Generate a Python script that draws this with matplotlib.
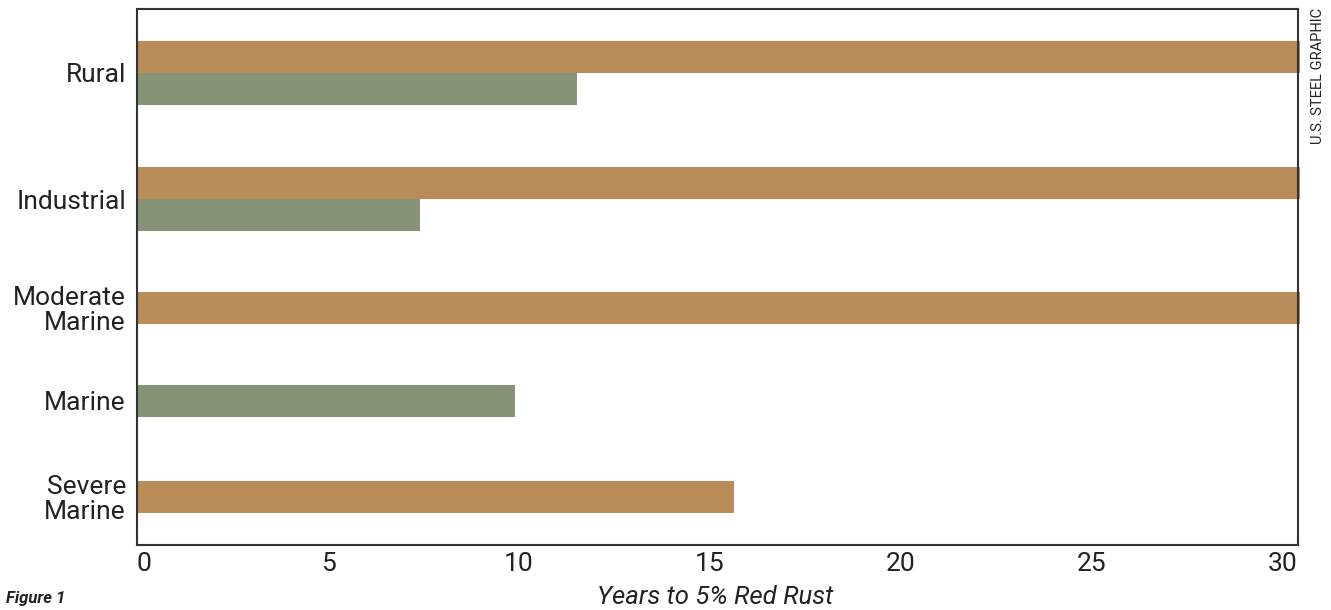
import matplotlib.pyplot as plt

plt.rcParams['font.family'] = ['Roboto', 'DejaVu Sans']

# environments, top to bottom
categories = ['Rural', 'Industrial', 'Moderate\nMarine', 'Marine', 'Severe\nMarine']
# years to 5% red rust, None = no bar
orange_years = [30.45, 30.45, 30.45, None, 15.63]
green_years = [11.52, 7.41, None, 9.9, None]

orange = '#BA8C5A'
green = '#869377'

# row centres and bar height (layout, in bar-height units)
row_pos = [2.0, 5.94, 9.34, 12.25, 15.25]
bar_h = 1.0

fig = plt.figure(figsize=(13.31, 6.10), dpi=100)
ax = fig.add_axes([137 / 1331, 1 - 545 / 610, (1298 - 137) / 1331, (545 - 9) / 610])

for i in range(len(categories)):
    o = orange_years[i]
    g = green_years[i]
    if o is not None and g is not None:
        ax.barh(row_pos[i] - bar_h / 2, o, height=bar_h, color=orange, clip_on=False)
        ax.barh(row_pos[i] + bar_h / 2, g, height=bar_h, color=green)
    elif o is not None:
        ax.barh(row_pos[i], o, height=bar_h, color=orange, clip_on=False)
    elif g is not None:
        ax.barh(row_pos[i], g, height=bar_h, color=green)

ax.set_xlim(0, 30.4)
ax.set_ylim(16.75, 0)
ax.set_xticks([0, 5, 10, 15, 20, 25, 30])
ax.set_yticks(row_pos)
ax.set_yticklabels(categories, linespacing=1.05)
ax.tick_params(axis='both', length=0, labelsize=19, colors='#222222')
ax.tick_params(axis='x', pad=5)
ax.tick_params(axis='y', pad=8)
# first label sits flush with the left spine
ax.get_xticklabels()[0].set_horizontalalignment('left')
for s in ax.spines.values():
    s.set_color('#333333')
    s.set_linewidth(1.5)

fig.text(715 / 1331, 1 - 597 / 610, 'Years to 5% Red Rust', fontsize=18.5, style='italic',
         ha='center', va='center', color='#222222')
fig.text(6 / 1331, 1 - 598 / 610, 'Figure 1', fontsize=12, style='italic', weight='bold',
         ha='left', va='center', color='#222222')
fig.text(1318 / 1331, 1 - 8 / 610, 'U.S. STEEL GRAPHIC', fontsize=10.5, rotation=90,
         ha='center', va='top', color='#222222')

fig.savefig('out.png', dpi=100)
